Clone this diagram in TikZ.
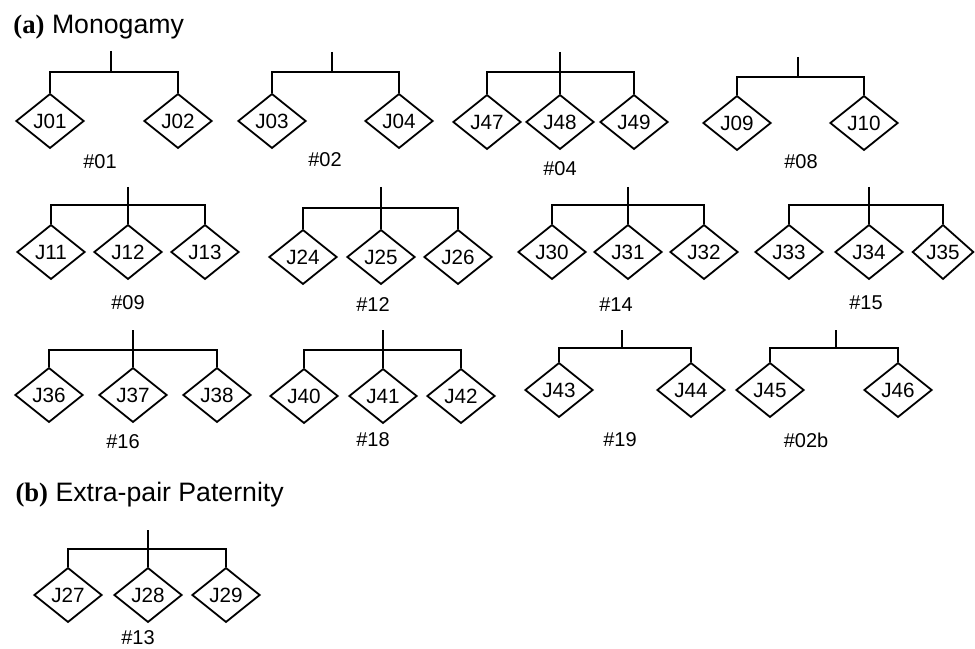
\documentclass[tikz,border=0pt]{standalone}
\usepackage{fontspec}
\setmainfont{Liberation Sans}
\newfontfamily\capserif{Liberation Serif}
\usetikzlibrary{shapes.geometric}

\tikzset{every picture/.style={line width=0.75pt}}
\tikzset{
  kid/.style={draw, shape=diamond, inner sep=0pt, minimum width=51pt, minimum height=41pt, line width=1.35pt, font=\fontsize{15.5}{18}\selectfont},
  famlabel/.style={inner sep=0.75pt, font=\fontsize{15}{18}\selectfont},
  paneltitle/.style={anchor=west, inner sep=0.75pt, font=\fontsize{20}{24}\selectfont},
  link/.style={line width=1.9pt}
}

\begin{document}
\begin{tikzpicture}[x=0.75pt,y=0.75pt,yscale=-1,xscale=1]
        \useasboundingbox (0,0) rectangle (975,649);

        % panel titles
        \node[paneltitle] (titleA) at (12,27) {{\capserif\bfseries (a)} Monogamy};
        \node[paneltitle] (titleB) at (14,495) {{\capserif\bfseries (b)} Extra-pair Paternity};

        % row 1
        \node[kid] (J01) at (50,121) {J01};
        \node[kid] (J02) at (178,121) {J02};
        \node[kid] (J03) at (272,121) {J03};
        \node[kid] (J04) at (399,121) {J04};
        \node[kid] (J47) at (487,122) {J47};
        \node[kid] (J48) at (560,122) {J48};
        \node[kid] (J49) at (634,122) {J49};
        \node[kid] (J09) at (737,123) {J09};
        \node[kid] (J10) at (864,123) {J10};

        \coordinate (t01) at (111,51);  \coordinate (s01) at (111,72);
        \coordinate (t02) at (332,52);  \coordinate (s02) at (332,72);
        \coordinate (t04) at (560,52);  \coordinate (s04) at (560,72);
        \coordinate (t08) at (798,57);  \coordinate (s08) at (798,77);

        \draw[link] (J01.north) |- (s01) -| (J02.north);  \draw[link] (t01) -- (s01);
        \draw[link] (J03.north) |- (s02) -| (J04.north);  \draw[link] (t02) -- (s02);
        \draw[link] (J47.north) |- (s04) -| (J49.north);  \draw[link] (t04) -- (J48.north);
        \draw[link] (J09.north) |- (s08) -| (J10.north);  \draw[link] (t08) -- (s08);

        \node[famlabel] (f01) at (100,162) {\#01};
        \node[famlabel] (f02) at (325,160) {\#02};
        \node[famlabel] (f04) at (560,169) {\#04};
        \node[famlabel] (f08) at (801,162) {\#08};

        % row 2
        \node[kid] (J11) at (51,252) {J11};
        \node[kid] (J12) at (128,252) {J12};
        \node[kid] (J13) at (205,252) {J13};
        \node[kid] (J24) at (303,257) {J24};
        \node[kid] (J25) at (381,257) {J25};
        \node[kid] (J26) at (458,257) {J26};
        \node[kid] (J30) at (552,252) {J30};
        \node[kid] (J31) at (628,252) {J31};
        \node[kid] (J32) at (704,252) {J32};
        \node[kid] (J33) at (789,252) {J33};
        \node[kid] (J34) at (869,252) {J34};
        \node[kid, minimum width=46pt] (J35) at (943,252) {J35};

        \coordinate (t09) at (128,187);  \coordinate (s09) at (128,205);
        \coordinate (t12) at (381,187);  \coordinate (s12) at (381,208);
        \coordinate (t14) at (628,187);  \coordinate (s14) at (628,205);
        \coordinate (t15) at (869,187);  \coordinate (s15) at (869,205);

        \draw[link] (J11.north) |- (s09) -| (J13.north);  \draw[link] (t09) -- (J12.north);
        \draw[link] (J24.north) |- (s12) -| (J26.north);  \draw[link] (t12) -- (J25.north);
        \draw[link] (J30.north) |- (s14) -| (J32.north);  \draw[link] (t14) -- (J31.north);
        \draw[link] (J33.north) |- (s15) -| (J35.north);  \draw[link] (t15) -- (J34.north);

        \node[famlabel] (f09) at (128,303) {\#09};
        \node[famlabel] (f12) at (373,305) {\#12};
        \node[famlabel] (f14) at (616,305) {\#14};
        \node[famlabel] (f15) at (866,303) {\#15};

        % row 3
        \node[kid] (J36) at (49,395) {J36};
        \node[kid] (J37) at (133,395) {J37};
        \node[kid] (J38) at (217,395) {J38};
        \node[kid] (J40) at (304,396) {J40};
        \node[kid] (J41) at (383,396) {J41};
        \node[kid] (J42) at (461,396) {J42};
        \node[kid] (J43) at (559,390) {J43};
        \node[kid] (J44) at (691,390) {J44};
        \node[kid] (J45) at (770,390) {J45};
        \node[kid] (J46) at (898,390) {J46};

        \coordinate (t16) at (133,330);  \coordinate (s16) at (133,350);
        \coordinate (t18) at (383,330);  \coordinate (s18) at (383,350);
        \coordinate (t19) at (622,330);  \coordinate (s19) at (622,348);
        \coordinate (t02b) at (836,330); \coordinate (s02b) at (836,348);

        \draw[link] (J36.north) |- (s16) -| (J38.north);  \draw[link] (t16) -- (J37.north);
        \draw[link] (J40.north) |- (s18) -| (J42.north);  \draw[link] (t18) -- (J41.north);
        \draw[link] (J43.north) |- (s19) -| (J44.north);  \draw[link] (t19) -- (s19);
        \draw[link] (J45.north) |- (s02b) -| (J46.north); \draw[link] (t02b) -- (s02b);

        \node[famlabel] (f16) at (123,442) {\#16};
        \node[famlabel] (f18) at (373,440) {\#18};
        \node[famlabel] (f19) at (620,440) {\#19};
        \node[famlabel] (f02b) at (806,440) {\#02b};

        % extra-pair family
        \node[kid] (J27) at (68,595) {J27};
        \node[kid] (J28) at (148,595) {J28};
        \node[kid] (J29) at (226,595) {J29};

        \coordinate (t13) at (148,530);  \coordinate (s13) at (148,549);

        \draw[link] (J27.north) |- (s13) -| (J29.north);  \draw[link] (t13) -- (J28.north);

        \node[famlabel] (f13) at (138,638) {\#13};
    \end{tikzpicture}
\end{document}
